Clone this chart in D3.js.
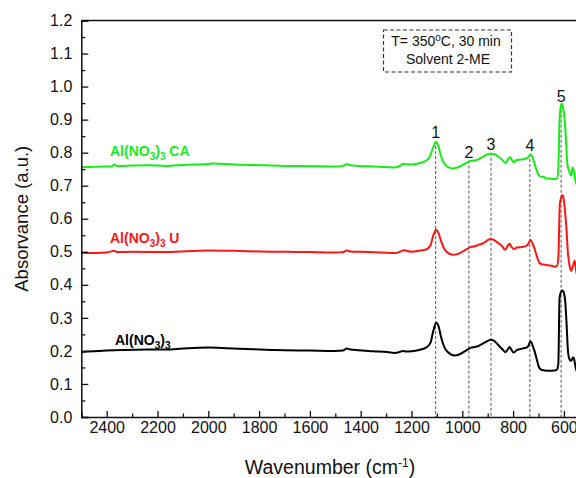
<!DOCTYPE html>
<html><head><meta charset="utf-8">
<script src="https://cdn.jsdelivr.net/npm/d3@7"></script>
<style>body{margin:0;background:#fff}svg text{font-family:Arial,"Liberation Sans",sans-serif}</style>
</head><body><svg id="c" width="576" height="478"></svg>
<script>
// ---------- data ----------
const wnCA  = [2500,2450,2400,2380,2370,2360,2300,2240,2165,2100,2000,1980,1900,1800,1700,1600,1500,1470,1455,1440,1410,1350,1290,1265,1245,1235,1220,1200,1170,1150,1130,1115,1105,1095,1084,1071,1055,1040,1020,1005,985,972,955,939,920,906,890,875,860,845,830,820,812,805,798,788,770,755,740,732,722,716,708,700,690,680,672,660,640,628,622,617,612,608,603,597,592,587,580,575,571,566,561,556,551,545,540];
const absCA = [0.756,0.757,0.758,0.758,0.764,0.760,0.761,0.762,0.760,0.763,0.766,0.767,0.764,0.762,0.760,0.759,0.758,0.760,0.765,0.762,0.760,0.758,0.756,0.755,0.760,0.766,0.765,0.764,0.768,0.773,0.785,0.815,0.832,0.822,0.790,0.767,0.756,0.752,0.755,0.760,0.768,0.774,0.776,0.779,0.787,0.793,0.797,0.796,0.789,0.780,0.769,0.780,0.786,0.778,0.771,0.777,0.779,0.781,0.786,0.795,0.783,0.767,0.748,0.733,0.727,0.727,0.722,0.722,0.720,0.721,0.750,0.900,0.940,0.948,0.935,0.900,0.840,0.770,0.745,0.735,0.730,0.755,0.745,0.720,0.705,0.720,0.700];

const wnU  = [2500,2400,2370,2360,2300,2165,2000,1900,1800,1700,1600,1500,1470,1455,1440,1400,1290,1265,1240,1230,1200,1170,1143,1125,1115,1103,1093,1084,1070,1055,1038,1020,1005,985,968,950,939,915,900,890,878,865,854,842,832,822,814,806,797,785,770,755,742,732,722,713,705,696,686,676,660,645,637,628,622,616,610,606,601,597,590,584,578,571,565,558,553,550,545];
const absU = [0.496,0.498,0.503,0.499,0.500,0.499,0.504,0.503,0.501,0.500,0.499,0.498,0.499,0.504,0.501,0.500,0.497,0.496,0.502,0.505,0.500,0.503,0.507,0.520,0.548,0.567,0.556,0.533,0.508,0.496,0.491,0.493,0.498,0.507,0.514,0.517,0.520,0.527,0.535,0.539,0.537,0.530,0.524,0.516,0.506,0.517,0.524,0.515,0.508,0.513,0.514,0.516,0.522,0.536,0.522,0.503,0.483,0.466,0.462,0.461,0.459,0.457,0.455,0.456,0.480,0.645,0.665,0.672,0.660,0.634,0.570,0.495,0.460,0.442,0.455,0.473,0.450,0.433,0.450];

const wnAl  = [2500,2450,2400,2370,2330,2240,2165,2100,2000,1950,1850,1750,1700,1600,1500,1470,1455,1440,1410,1350,1290,1268,1250,1235,1220,1200,1170,1143,1125,1115,1103,1093,1084,1070,1055,1031,1010,992,975,966,950,939,920,900,889,877,867,855,842,830,820,814,806,798,784,765,748,740,732,722,716,708,700,696,686,676,660,637,628,622,617,612,606,600,595,590,584,578,571,565,561,556,551,545];
const absAl = [0.197,0.199,0.201,0.202,0.203,0.204,0.204,0.207,0.210,0.209,0.206,0.203,0.202,0.201,0.200,0.201,0.207,0.204,0.202,0.199,0.196,0.194,0.196,0.200,0.198,0.199,0.203,0.210,0.225,0.258,0.285,0.274,0.243,0.210,0.195,0.186,0.190,0.198,0.206,0.210,0.212,0.214,0.222,0.230,0.234,0.232,0.225,0.215,0.205,0.196,0.206,0.212,0.203,0.195,0.203,0.207,0.210,0.215,0.229,0.214,0.200,0.178,0.155,0.148,0.142,0.141,0.140,0.141,0.143,0.160,0.360,0.378,0.383,0.375,0.352,0.290,0.200,0.175,0.170,0.180,0.178,0.160,0.140,0.155];

const peakWn     = [1105, 974, 887, 734, 611];
const peakLabels = ["1", "2", "3", "4", "5"];

const xTicks      = [2400,2200,2000,1800,1600,1400,1200,1000,800,600];
const xMinorTicks = [2500,2300,2100,1900,1700,1500,1300,1100,900,700,500];
const yTicks      = [0,0.1,0.2,0.3,0.4,0.5,0.6,0.7,0.8,0.9,1.0,1.1,1.2];
const yMinorTicks = [0.05,0.15,0.25,0.35,0.45,0.55,0.65,0.75,0.85,0.95,1.05,1.15];

// ---------- layout ----------
const svg = d3.select("#c");
const L = 81.3, B = 417, T = 20.5;
const x = d3.scaleLinear().domain([2500, 400]).range([L, L + 2100 * 0.254]);
const y = d3.scaleLinear().domain([0, 1.2]).range([B, T]);

function interp(wns, vals, w) {
  for (let i = 0; i < wns.length - 1; i++) {
    if (wns[i] >= w && w >= wns[i + 1]) {
      const t = (wns[i] - w) / (wns[i] - wns[i + 1]);
      return vals[i] + t * (vals[i + 1] - vals[i]);
    }
  }
  return vals[vals.length - 1];
}

svg.append("defs").append("clipPath").attr("id", "plot")
  .append("rect").attr("x", L).attr("y", T).attr("width", 600).attr("height", B - T);

// dashed peak guide lines
const guides = svg.append("g");
peakWn.forEach((w, i) => {
  const yc = y(interp(wnCA, absCA, w));
  guides.append("line")
    .attr("x1", x(w)).attr("x2", x(w))
    .attr("y1", yc - 1).attr("y2", B)
    .attr("stroke", "#555").attr("stroke-width", 1).attr("stroke-dasharray", "3,2");
  guides.append("text")
    .attr("x", x(w)).attr("y", yc - 4)
    .attr("text-anchor", "middle").attr("font-size", 16).attr("fill", "#111")
    .text(peakLabels[i]);
});

// curves
const series = [
  {wn: wnAl, v: absAl, color: "#000000"},
  {wn: wnU,  v: absU,  color: "#ff1414"},
  {wn: wnCA, v: absCA, color: "#14ee14"}
];
const line = d3.line().x(d => x(d[0])).y(d => y(d[1])).curve(d3.curveMonotoneX);
const gl = svg.append("g").attr("clip-path", "url(#plot)");
series.forEach(s => {
  const pts = s.wn.map((w, i) => [w, s.v[i]]).reverse();
  gl.append("path").attr("d", line(pts)).attr("fill", "none")
    .attr("stroke", s.color).attr("stroke-width", 2).attr("stroke-linejoin", "round");
});

// axes
function styleAxis(g) {
  g.select(".domain").attr("stroke", "#111").attr("stroke-width", 1.5);
  g.selectAll(".tick line").attr("stroke", "#111").attr("stroke-width", 1.3);
  g.selectAll("text").attr("font-size", 16).attr("fill", "#111")
    .attr("font-family", "Arial, 'Liberation Sans', sans-serif");
}
const gx = svg.append("g").attr("transform", `translate(0,${B})`)
  .call(d3.axisBottom(x).tickValues(xTicks).tickSize(-6).tickPadding(4.5).tickFormat(d3.format("d")));
styleAxis(gx);
const gxm = svg.append("g").attr("transform", `translate(0,${B})`)
  .call(d3.axisBottom(x).tickValues(xMinorTicks).tickSize(-3.5).tickFormat(""));
styleAxis(gxm);
gxm.select(".domain").remove();

const gy = svg.append("g").attr("transform", `translate(${L},0)`)
  .call(d3.axisLeft(y).tickValues(yTicks).tickSize(-7).tickPadding(9).tickFormat(d3.format(".1f")));
styleAxis(gy);
const gym = svg.append("g").attr("transform", `translate(${L},0)`)
  .call(d3.axisLeft(y).tickValues(yMinorTicks).tickSize(-4).tickFormat(""));
styleAxis(gym);
gym.select(".domain").remove();

// top frame
svg.append("line").attr("x1", L).attr("x2", 576).attr("y1", T).attr("y2", T)
  .attr("stroke", "#111").attr("stroke-width", 1.5);

// axis titles
const xt = svg.append("text").attr("x", 330).attr("y", 474).attr("text-anchor", "middle")
  .attr("font-size", 19.5).attr("fill", "#111");
xt.append("tspan").text("Wavenumber (cm");
xt.append("tspan").attr("dy", -7).attr("font-size", 12).text("-1");
xt.append("tspan").attr("dy", 7).text(")");

svg.append("text").attr("transform", `translate(28,${(B + T) / 2}) rotate(-90)`)
  .attr("text-anchor", "middle").attr("font-size", 18.5).attr("fill", "#111")
  .text("Absorvance (a.u.)");

// series labels
function seriesLabel(xp, yp, color, suffix) {
  const t = svg.append("text").attr("x", xp).attr("y", yp).attr("font-size", 14)
    .attr("font-weight", "bold").attr("fill", color);
  t.append("tspan").text("Al(NO");
  t.append("tspan").attr("dy", 4).attr("font-size", 10).text("3");
  t.append("tspan").attr("dy", -4).text(")");
  t.append("tspan").attr("dy", 4).attr("font-size", 10).text("3");
  if (suffix) t.append("tspan").attr("dy", -4).text(" " + suffix);
}
seriesLabel(110, 156, "#14ee14", "CA");
seriesLabel(110, 243, "#ff1414", "U");
seriesLabel(115, 345, "#000", null);

// condition box
svg.append("rect").attr("x", 383.5).attr("y", 30).attr("width", 128).attr("height", 42)
  .attr("fill", "none").attr("stroke", "#333").attr("stroke-width", 1.2).attr("stroke-dasharray", "4,2.5");
const b1 = svg.append("text").attr("x", 446).attr("y", 46).attr("text-anchor", "middle")
  .attr("font-size", 14).attr("fill", "#111");
b1.append("tspan").text("T= 350");
b1.append("tspan").attr("dy", -5).attr("font-size", 10).text("o");
b1.append("tspan").attr("dy", 5).text("C, 30 min");
svg.append("text").attr("x", 448).attr("y", 64).attr("text-anchor", "middle")
  .attr("font-size", 14).attr("fill", "#111").text("Solvent 2-ME");
</script></body></html>
